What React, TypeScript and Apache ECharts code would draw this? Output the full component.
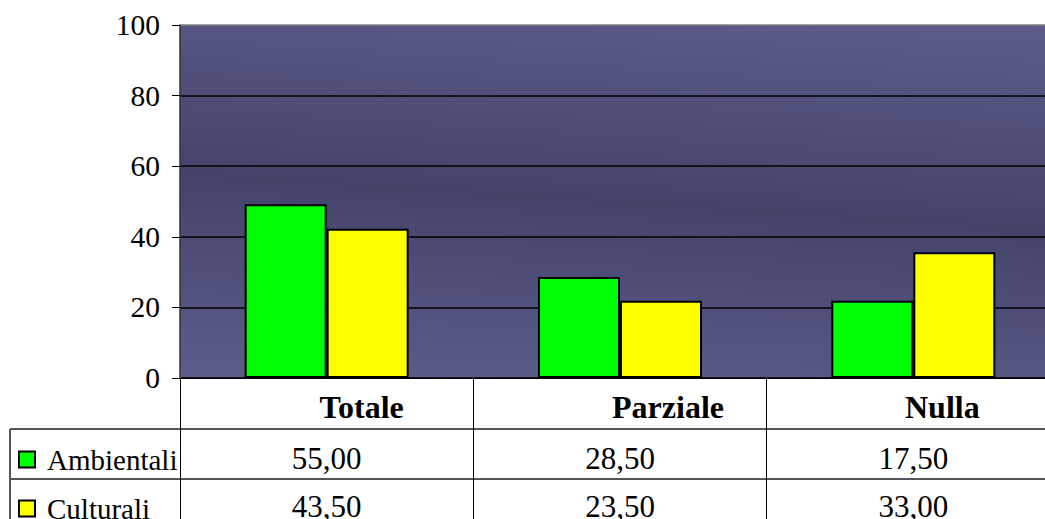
import React, { useEffect, useRef } from 'react';
import * as echarts from 'echarts';

const categories = ['Totale', 'Parziale', 'Nulla'];
const seriesNames = ['Ambientali', 'Culturali'];
const ambientali = [49.2, 28.6, 21.9];
const culturali = [42.3, 21.9, 35.6];
const tableAmbientali = ['55,00', '28,50', '17,50'];
const tableCulturali = ['43,50', '23,50', '33,00'];
const yMin = 0;
const yMax = 100;
const yStep = 20;

const FONT = '"Liberation Serif", "Times New Roman", serif';
const headerPad = [70, 96, 58];
const rowCenters = [458, 506];

export default function App() {
  const ref = useRef<HTMLDivElement>(null);
  useEffect(() => {
    document.body.style.margin = '0';
    const chart = echarts.init(ref.current!, null, { renderer: 'svg' });
    const rich: any = {};
    headerPad.forEach((p, i) => {
      rich['h' + i] = {
        fontFamily: FONT,
        fontSize: 32,
        fontWeight: 'bold',
        color: '#000',
        lineHeight: 32,
        padding: [0, 0, 0, p],
      };
    });
    const legendTops = [445, 494];
    const option: any = {
      animation: false,
      grid: {
        left: 180,
        width: 880,
        top: 25,
        bottom: 141,
        outerBoundsMode: 'none',
        containLabel: false,
        show: true,
        borderWidth: 0,
        backgroundColor: new echarts.graphic.LinearGradient(0.361, 1.362, 0.639, -0.362, [
          { offset: 0, color: '#6a6a9e' },
          { offset: 0.5, color: '#43436a' },
          { offset: 1, color: '#6a6a9e' },
        ]),
      },
      legend: seriesNames.map((name, i) => ({
        orient: 'vertical',
        left: 18,
        top: legendTops[i],
        padding: 0,
        itemWidth: 16,
        itemHeight: 16,
        icon: 'rect',
        data: [name],
        textStyle: {
          fontFamily: FONT,
          fontSize: 29,
          lineHeight: 29,
          color: '#000',
          padding: [0, 0, 0, 7],
        },
      })),
      xAxis: {
        type: 'category',
        data: categories,
        axisLine: { show: true, lineStyle: { color: '#000', width: 1 } },
        axisTick: {
          show: true,
          length: 141,
          interval: 0,
          alignWithLabel: false,
          lineStyle: { color: '#000', width: 1 },
        },
        axisLabel: {
          interval: 0,
          margin: 13,
          verticalAlign: 'top',
          formatter: (v: string, i: number) => `{h${i}|${v}}`,
          rich,
        },
        splitLine: { show: false },
      },
      yAxis: {
        type: 'value',
        min: yMin,
        max: yMax,
        interval: yStep,
        axisLine: { show: true, lineStyle: { color: '#333', width: 1.5 } },
        axisTick: { show: true, length: 8, lineStyle: { color: '#000', width: 1 } },
        axisLabel: {
          margin: 20,
          fontFamily: FONT,
          fontSize: 29.5,
          color: '#000',
        },
        splitLine: {
          show: true,
          lineStyle: {
            color: ['#000', '#000', '#000', '#000', '#000', '#808080'],
            width: 1.5,
          },
        },
      },
      series: [
        {
          name: seriesNames[0],
          type: 'bar',
          data: ambientali,
          barWidth: 82,
          barGap: '0%',
          itemStyle: { color: '#00ff00', borderColor: '#000', borderWidth: 2 },
        },
        {
          name: seriesNames[1],
          type: 'bar',
          data: culturali,
          barWidth: 82,
          barGap: '0%',
          itemStyle: { color: '#ffff00', borderColor: '#000', borderWidth: 2 },
        },
      ],
    };
    chart.setOption(option);

    const xs = categories.map((c) => chart.convertToPixel({ xAxisIndex: 0 }, c) as number);
    const rows = [tableAmbientali, tableCulturali];
    const graphic: any[] = [];
    rows.forEach((row, r) => {
      row.forEach((val, i) => {
        graphic.push({
          type: 'text',
          x: xs[i],
          y: rowCenters[r],
          style: {
            text: val,
            fontFamily: FONT,
            fontSize: 31,
            fill: '#000',
            align: 'center',
            verticalAlign: 'middle',
          },
        });
      });
    });
    [429, 479].forEach((y) => {
      graphic.push({
        type: 'line',
        shape: { x1: 10, y1: y, x2: 1045, y2: y },
        style: { stroke: '#555', lineWidth: 2 },
      });
    });
    graphic.push({
      type: 'line',
      shape: { x1: 10, y1: 429, x2: 10, y2: 519 },
      style: { stroke: '#555', lineWidth: 2 },
    });
    chart.setOption({ graphic });

    return () => chart.dispose();
  }, []);
  return <div ref={ref} style={{ width: 1045, height: 519 }} />;
}
